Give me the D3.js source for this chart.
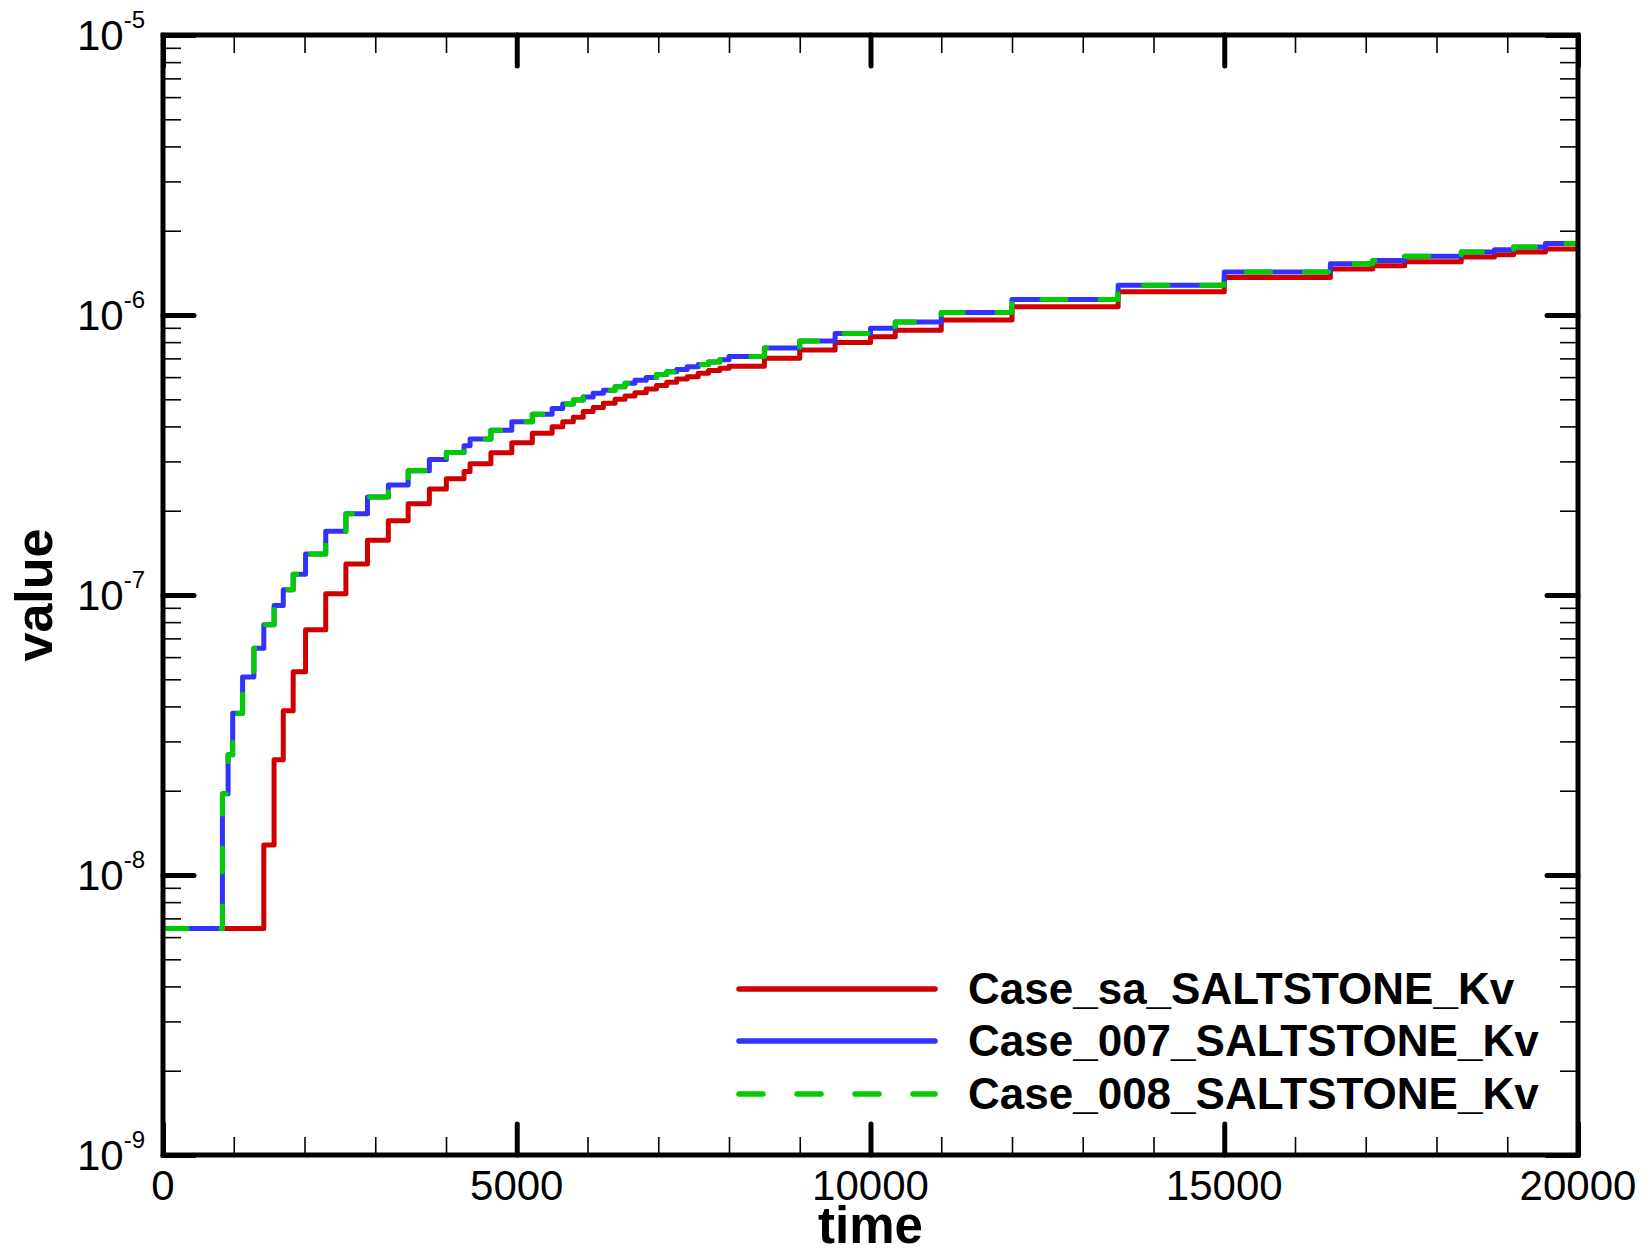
<!DOCTYPE html>
<html>
<head>
<meta charset="utf-8">
<script src="https://cdn.jsdelivr.net/npm/d3@7"></script>
<style>
  body { margin: 0; background: #fff; }
  text { font-family: "Liberation Sans", Arial, sans-serif; fill: #000; }
</style>
</head>
<body>
<script>
// output times shared by all three cases (step-after values)
const times = [0, 840, 920, 985, 1125, 1285, 1425, 1570, 1700, 1840, 2015, 2300, 2585, 2890,
  3185, 3465, 3765, 4005, 4255, 4340, 4635, 4930, 5220, 5500, 5650, 5800, 5940, 6080, 6225,
  6390, 6530, 6670, 6830, 6975, 7120, 7260, 7410, 7565, 7710, 7870, 8000, 8500, 9000, 9500,
  10000, 10350, 11000, 12000, 13500, 15000, 16500, 17100, 17550, 18350, 18820, 19090, 19540, 20000];

const caseSa = [6.44e-9, 6.44e-9, 6.44e-9, 6.44e-9, 6.44e-9, 6.44e-9, 1.28e-8, 2.58e-8, 3.86e-8,
  5.32e-8, 7.52e-8, 1.01e-7, 1.29e-7, 1.57e-7, 1.84e-7, 2.12e-7, 2.39e-7, 2.60e-7, 2.76e-7,
  2.94e-7, 3.22e-7, 3.50e-7, 3.78e-7, 3.99e-7, 4.16e-7, 4.31e-7, 4.52e-7, 4.67e-7, 4.84e-7,
  5.00e-7, 5.14e-7, 5.28e-7, 5.44e-7, 5.60e-7, 5.75e-7, 5.91e-7, 6.02e-7, 6.19e-7, 6.33e-7,
  6.45e-7, 6.56e-7, 7.00e-7, 7.50e-7, 7.98e-7, 8.37e-7, 8.82e-7, 9.60e-7, 1.07e-6, 1.21e-6,
  1.36e-6, 1.46e-6, 1.50e-6, 1.55e-6, 1.61e-6, 1.64e-6, 1.68e-6, 1.72e-6, 1.72e-6];

const case007 = [6.44e-9, 1.95e-8, 2.69e-8, 3.78e-8, 5.09e-8, 6.45e-8, 7.83e-8, 9.18e-8, 1.045e-7,
  1.186e-7, 1.40e-7, 1.69e-7, 1.95e-7, 2.24e-7, 2.47e-7, 2.78e-7, 3.05e-7, 3.23e-7, 3.41e-7,
  3.61e-7, 3.88e-7, 4.16e-7, 4.42e-7, 4.64e-7, 4.81e-7, 4.97e-7, 5.10e-7, 5.25e-7, 5.39e-7,
  5.54e-7, 5.70e-7, 5.85e-7, 5.98e-7, 6.13e-7, 6.27e-7, 6.39e-7, 6.53e-7, 6.65e-7, 6.80e-7,
  6.92e-7, 7.11e-7, 7.62e-7, 8.07e-7, 8.58e-7, 8.97e-7, 9.45e-7, 1.02e-6, 1.136e-6, 1.277e-6,
  1.424e-6, 1.524e-6, 1.566e-6, 1.62e-6, 1.68e-6, 1.71e-6, 1.75e-6, 1.80e-6, 1.80e-6];

const case008 = [6.44e-9, 1.95e-8, 2.69e-8, 3.78e-8, 5.09e-8, 6.45e-8, 7.83e-8, 9.18e-8, 1.045e-7,
  1.186e-7, 1.40e-7, 1.69e-7, 1.95e-7, 2.24e-7, 2.47e-7, 2.78e-7, 3.05e-7, 3.23e-7, 3.41e-7,
  3.61e-7, 3.88e-7, 4.16e-7, 4.42e-7, 4.64e-7, 4.81e-7, 4.97e-7, 5.10e-7, 5.25e-7, 5.39e-7,
  5.54e-7, 5.70e-7, 5.85e-7, 5.98e-7, 6.13e-7, 6.27e-7, 6.39e-7, 6.53e-7, 6.65e-7, 6.80e-7,
  6.92e-7, 7.11e-7, 7.62e-7, 8.07e-7, 8.58e-7, 8.97e-7, 9.45e-7, 1.02e-6, 1.136e-6, 1.277e-6,
  1.424e-6, 1.524e-6, 1.566e-6, 1.62e-6, 1.68e-6, 1.71e-6, 1.75e-6, 1.80e-6, 1.80e-6];

const seriesNames = ["Case_sa_SALTSTONE_Kv", "Case_007_SALTSTONE_Kv", "Case_008_SALTSTONE_Kv"];
const xMajorTicks = [0, 5000, 10000, 15000, 20000];
const yMajorTicks = [1e-9, 1e-8, 1e-7, 1e-6, 1e-5];
const yExponents = ["-9", "-8", "-7", "-6", "-5"];

const width = 1650, height = 1255;
const margin = {left: 163, right: 72, top: 35, bottom: 100};

const series = [
  {name: seriesNames[0], values: caseSa, color: "#d10000", dash: null},
  {name: seriesNames[1], values: case007, color: "#3232ff", dash: null},
  {name: seriesNames[2], values: case008, color: "#00cc00", dash: "24,34"}
];

const svg = d3.select("body").append("svg")
  .attr("width", width)
  .attr("height", height);

const x = d3.scaleLinear()
  .domain([0, 20000])
  .range([margin.left, width - margin.right]);

const y = d3.scaleLog()
  .domain([1e-9, 1e-5])
  .range([height - margin.bottom, margin.top]);

// minor ticks
const xMinor = d3.range(1000, 20000, 1000).filter(d => d % 5000 != 0);
let yMinor = [];
yMajorTicks.slice(0, 4).forEach(p => {
  for (let k = 2; k <= 9; k++) yMinor.push(p * k);
});

// clip for the curves
svg.append("clipPath").attr("id", "plotclip")
  .append("rect")
    .attr("x", x(0)).attr("y", y(1e-5))
    .attr("width", x(20000) - x(0))
    .attr("height", y(1e-9) - y(1e-5));

// CURVES
const line = d3.line()
  .x((d, i) => x(times[i]))
  .y(d => y(d))
  .curve(d3.curveStepAfter);

svg.append("g")
    .attr("clip-path", "url(#plotclip)")
  .selectAll("path")
  .data(series)
  .enter()
  .append("path")
    .attr("d", d => line(d.values))
    .attr("fill", "none")
    .attr("stroke", d => d.color)
    .attr("stroke-width", 5)
    .attr("stroke-linejoin", "round")
    .attr("stroke-linecap", d => d.dash ? "round" : "butt")
    .attr("stroke-dasharray", d => d.dash);

// AXES (ticks drawn inward on all four sides)
function noDomain(el) { el.select(".domain").remove(); }

function styleTicks(el, w, cap) {
  el.selectAll(".tick line")
    .attr("stroke", "#000")
    .attr("stroke-width", w)
    .attr("stroke-linecap", cap);
  el.selectAll(".tick text").remove();
}

[{axis: d3.axisLeft(y), at: `translate(${x(0)},0)`},
 {axis: d3.axisRight(y), at: `translate(${x(20000)},0)`}].forEach(a => {
  svg.append("g").attr("transform", a.at)
    .call(a.axis.tickValues(yMinor).tickSize(-18).tickFormat(""))
    .call(noDomain).call(styleTicks, 1.6, "butt");
});
[{axis: d3.axisLeft(y), at: `translate(${x(0)},0)`},
 {axis: d3.axisRight(y), at: `translate(${x(20000)},0)`}].forEach(a => {
  svg.append("g").attr("transform", a.at)
    .call(a.axis.tickValues(yMajorTicks).tickSize(-31).tickFormat(""))
    .call(noDomain).call(styleTicks, 5, "round");
});

[{axis: d3.axisBottom(x), at: `translate(0,${y(1e-9)})`},
 {axis: d3.axisTop(x), at: `translate(0,${y(1e-5)})`}].forEach(a => {
  svg.append("g").attr("transform", a.at)
    .call(a.axis.tickValues(xMinor).tickSize(-18).tickFormat(""))
    .call(noDomain).call(styleTicks, 1.6, "butt");
});
[{axis: d3.axisBottom(x), at: `translate(0,${y(1e-9)})`},
 {axis: d3.axisTop(x), at: `translate(0,${y(1e-5)})`}].forEach(a => {
  svg.append("g").attr("transform", a.at)
    .call(a.axis.tickValues(xMajorTicks).tickSize(-31).tickFormat(""))
    .call(noDomain).call(styleTicks, 5, "round");
});

// frame
svg.append("rect")
  .attr("x", x(0)).attr("y", y(1e-5))
  .attr("width", x(20000) - x(0))
  .attr("height", y(1e-9) - y(1e-5))
  .attr("fill", "none")
  .attr("stroke", "#000")
  .attr("stroke-width", 5);

// TICK LABELS
const yLab = svg.append("g").selectAll("text")
  .data(yMajorTicks)
  .enter()
  .append("text")
    .attr("x", x(0) - 18)
    .attr("y", d => y(d) + 15)
    .attr("text-anchor", "end")
    .attr("font-size", 42);
yLab.append("tspan").text("10");
yLab.append("tspan")
  .attr("font-size", 24)
  .attr("dy", -22)
  .text((d, i) => yExponents[i]);

svg.append("g").selectAll("text")
  .data(xMajorTicks)
  .enter()
  .append("text")
    .attr("x", d => x(d))
    .attr("y", y(1e-9) + 45)
    .attr("text-anchor", "middle")
    .attr("font-size", 42)
    .text(d => d);

// AXIS TITLES
svg.append("text")
  .attr("x", (x(0) + x(20000)) / 2)
  .attr("y", 1243)
  .attr("text-anchor", "middle")
  .attr("font-size", 51)
  .attr("font-weight", "bold")
  .text("time");

svg.append("text")
  .attr("transform", `translate(52,${(y(1e-5) + y(1e-9)) / 2}) rotate(-90)`)
  .attr("text-anchor", "middle")
  .attr("font-size", 52)
  .attr("font-weight", "bold")
  .text("value");

// LEGEND
const legend = svg.append("g").attr("id", "legend");
const legendY = [989, 1041, 1094];
const lg = legend.selectAll("g")
  .data(series)
  .enter()
  .append("g")
    .attr("transform", (d, i) => `translate(0,${legendY[i]})`);
lg.append("line")
  .attr("x1", 739).attr("x2", 935)
  .attr("stroke", d => d.color)
  .attr("stroke-width", 5.5)
  .attr("stroke-linecap", "round")
  .attr("stroke-dasharray", d => d.dash);
lg.append("text")
  .attr("x", 968)
  .attr("y", 15)
  .attr("font-size", 44)
  .attr("font-weight", "bold")
  .text(d => d.name);
</script>
</body>
</html>
